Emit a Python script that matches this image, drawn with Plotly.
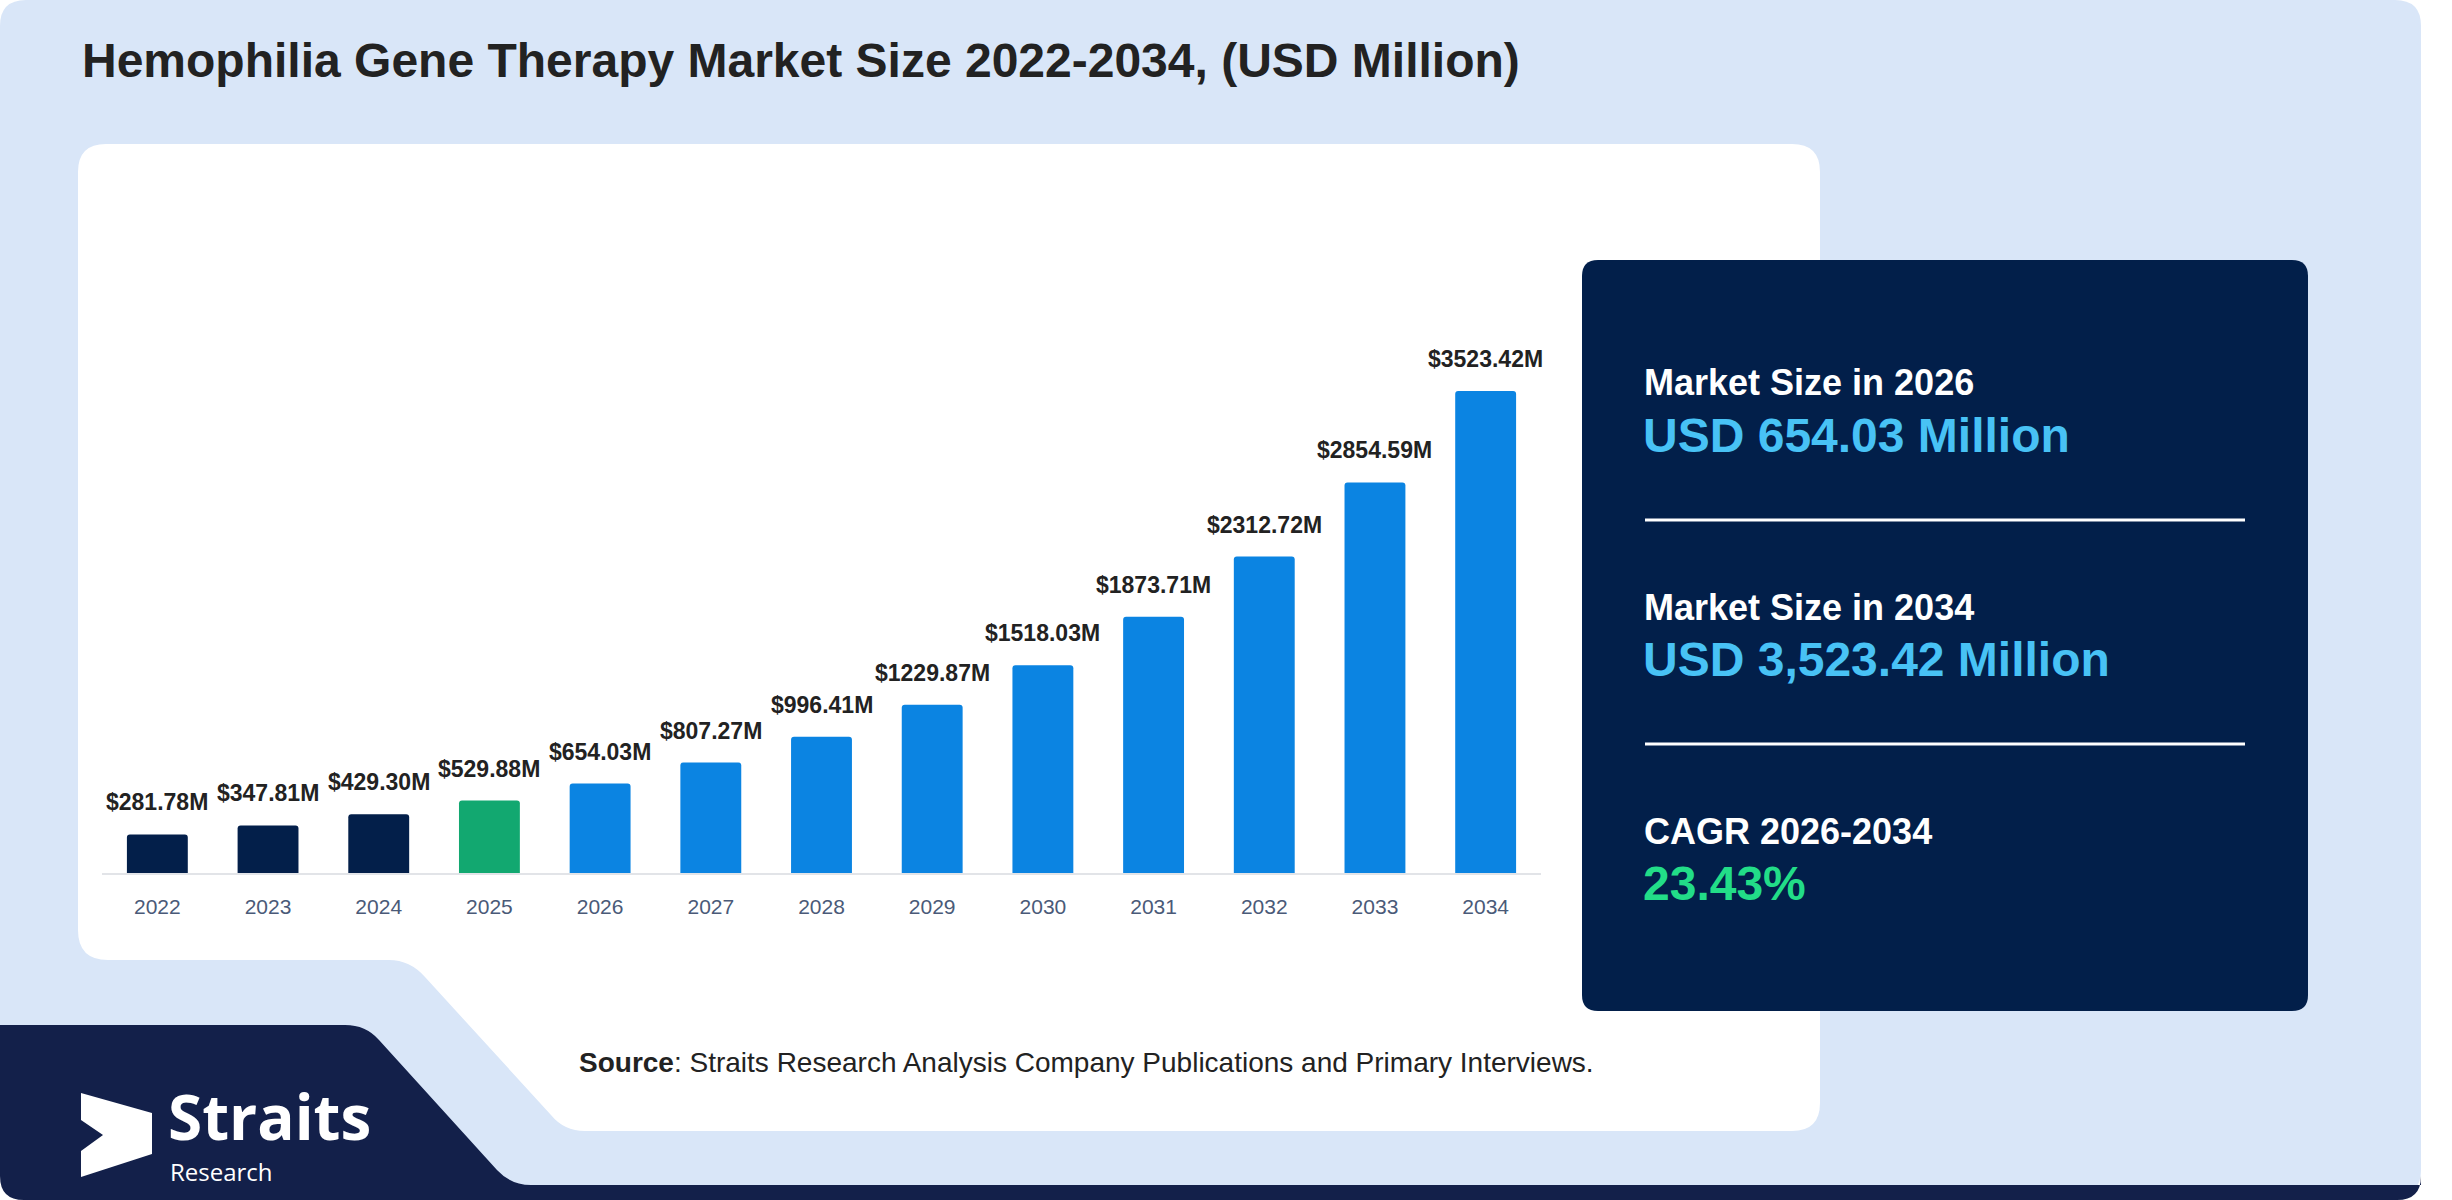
import plotly.graph_objects as go

# chart data
years = ["2022", "2023", "2024", "2025", "2026", "2027", "2028",
         "2029", "2030", "2031", "2032", "2033", "2034"]
market_size = [281.78, 347.81, 429.30, 529.88, 654.03, 807.27, 996.41,
               1229.87, 1518.03, 1873.71, 2312.72, 2854.59, 3523.42]
value_labels = ["$%.2fM" % v for v in market_size]

# side panel figures
stats_titles = ["Market Size in 2026", "Market Size in 2034", "CAGR 2026-2034"]
stats_values = ["USD 654.03 Million", "USD 3,523.42 Million", "23.43%"]

title = "Hemophilia Gene Therapy Market Size 2022-2034, (USD Million)"
source_note = "<b>Source</b>: Straits Research Analysis Company Publications and Primary Interviews."

NAVY = "#031f4a"
GREEN = "#12a870"
BLUE = "#0b84e2"
bar_colors = [NAVY] * 3 + [GREEN] + [BLUE] * 9

W, H = 2452, 1200
FONT = "Liberation Sans, Arial, sans-serif"


def px(x):
    return x / W


def py(y):
    return 1 - y / H


def make_path(cmds):
    out = []
    for c in cmds:
        op, nums = c[0], c[1:]
        pts = []
        for i in range(0, len(nums), 2):
            pts.append("%.5f,%.5f" % (px(nums[i]), py(nums[i + 1])))
        out.append(op + " " + " ".join(pts))
    return " ".join(out) + " Z"


def rounded_rect(x0, y0, x1, y1, r):
    return make_path([
        ("M", x0 + r, y0), ("L", x1 - r, y0), ("Q", x1, y0, x1, y0 + r),
        ("L", x1, y1 - r), ("Q", x1, y1, x1 - r, y1),
        ("L", x0 + r, y1), ("Q", x0, y1, x0, y1 - r),
        ("L", x0, y0 + r), ("Q", x0, y0, x0 + r, y0),
    ])


fig = go.Figure()

fig.add_trace(go.Bar(
    x=years, y=market_size, width=0.55,
    marker=dict(color=bar_colors, cornerradius=3, line=dict(width=0)),
    hoverinfo="skip",
))

shapes = []
# light blue background card
shapes.append(dict(type="path", path=rounded_rect(0, 0, 2421, 1196, 26),
                   fillcolor="#d9e6f8", line_width=0, layer="below"))
# navy footer band with diagonal
shapes.append(dict(type="path", layer="below", fillcolor="#13204a", line_width=0,
                   path=make_path([
                       ("M", 0, 1025), ("L", 345, 1025), ("Q", 366, 1025, 379, 1040),
                       ("L", 497, 1170), ("Q", 511, 1185, 531, 1185),
                       ("L", 2421, 1185), ("L", 2421, 1176), ("Q", 2421, 1200, 2397, 1200),
                       ("L", 24, 1200), ("Q", 0, 1200, 0, 1176),
                   ])))
# white chart panel
shapes.append(dict(type="path", layer="below", fillcolor="white", line_width=0,
                   path=make_path([
                       ("M", 106, 144), ("L", 1792, 144), ("Q", 1820, 144, 1820, 172),
                       ("L", 1820, 1103), ("Q", 1820, 1131, 1792, 1131),
                       ("L", 585, 1131), ("Q", 564, 1131, 551, 1115),
                       ("L", 425, 977), ("Q", 410, 960, 389, 960),
                       ("L", 108, 960), ("Q", 78, 960, 78, 930),
                       ("L", 78, 172), ("Q", 78, 144, 106, 144),
                   ])))
# dark stats panel
shapes.append(dict(type="path", path=rounded_rect(1582, 260, 2308, 1011, 16),
                   fillcolor="#021f4a", line_width=0, layer="below"))
for ly in [520, 744]:
    shapes.append(dict(type="line", xref="paper", yref="paper",
                       x0=px(1645), x1=px(2245), y0=py(ly), y1=py(ly),
                       line=dict(color="white", width=3)))
# logo mark
shapes.append(dict(type="path", fillcolor="white", line_width=0,
                   path=make_path([
                       ("M", 81, 1093), ("L", 152, 1113), ("L", 152, 1154),
                       ("L", 81, 1177), ("L", 81, 1151), ("L", 103, 1135),
                       ("L", 81, 1120),
                   ])))
for s in shapes:
    s.setdefault("xref", "paper")
    s.setdefault("yref", "paper")

annotations = []


def add_text(text, x, y, size, color, bold=False, family=FONT, anchor="middle"):
    annotations.append(dict(
        text=text, x=px(x), y=py(y), xref="paper", yref="paper",
        xanchor="left", yanchor=anchor, showarrow=False,
        font=dict(family=family, size=size, color=color,
                  weight="bold" if bold else "normal"),
    ))


add_text(title, 80, 60, 48, "#222222", bold=True)
add_text(source_note, 577, 1062, 28, "#222222")
# logo wordmark: big word sits on top, small word hangs below it
add_text("Straits", 166, 1160, 62, "white", bold=True,
         family="Open Sans, sans-serif", anchor="bottom")
add_text("Research", 168, 1153, 24, "white",
         family="Open Sans, sans-serif", anchor="top")

for i in range(3):
    top = 383 + 224 * i
    add_text(stats_titles[i], 1642, top, 36, "white", bold=True)
    add_text(stats_values[i], 1641, top + 52, 48,
             "#22dd88" if i == 2 else "#48c2f5", bold=True)

# value labels above bars (category index on the x axis)
for i, (v, lab) in enumerate(zip(market_size, value_labels)):
    annotations.append(dict(
        text=lab, x=i, y=v, xref="x", yref="y", showarrow=False,
        xanchor="center", yanchor="bottom", yshift=17,
        font=dict(family=FONT, size=23, color="#222222", weight="bold"),
    ))

fig.update_layout(
    width=W, height=H,
    margin=dict(l=0, r=0, t=0, b=0),
    paper_bgcolor="white",
    plot_bgcolor="rgba(0,0,0,0)",
    showlegend=False,
    bargap=0.45,
    shapes=shapes,
    annotations=annotations,
    xaxis=dict(
        domain=[px(102), px(1541)], range=[-0.5, 12.5], type="category",
        showgrid=False, zeroline=False, showline=True, linecolor="#e2e4e8",
        linewidth=2, ticks="", ticklabelstandoff=14,
        tickfont=dict(family=FONT, size=21, color="#4a5a78"),
        fixedrange=True,
    ),
    yaxis=dict(
        domain=[py(873), py(330)], range=[0, 543 / 0.1368],
        showgrid=False, zeroline=False, showticklabels=False, showline=False,
        fixedrange=True,
    ),
)

fig.write_html("out.html", config={"displayModeBar": False},
               post_script="document.body.style.margin='0';")
